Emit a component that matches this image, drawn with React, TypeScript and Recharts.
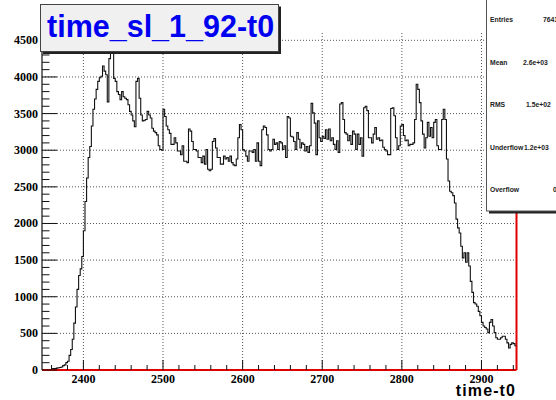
import React from 'react';
import { Line, LineChart, ReferenceLine, XAxis, YAxis } from 'recharts';

// time_sl_1_92-t0 : drift time histogram, 2-unit bins starting at 2348
const X_START = 2348;
const BIN_WIDTH = 2;
const X_END = 2944;

const counts = [
  0, 0, 0, 0, 0, 5, 15, 20, 20, 25,
  30, 35, 40, 60, 70, 100, 120, 200, 280, 420,
  640, 860, 1100, 1290, 1380, 1550, 1900, 2300, 2620, 2900,
  3050, 3330, 3560, 3700, 3830, 3940, 3990, 4010, 4150, 4080,
  4030, 3660, 4250, 4380, 4330, 3980, 3940, 3800, 3760, 3690,
  3800, 3730, 3710, 3690, 3620, 3530, 3480, 3400, 3320, 3940,
  3980, 3710, 3480, 3400, 3410, 3420, 3530, 3480, 3440, 3300,
  3260, 3240, 3210, 3060, 3010, 3000, 3560, 3460, 3330, 3280,
  3230, 3080, 3080, 3170, 3100, 2990, 2990, 2940, 3060, 2850,
  2850, 2830, 3290, 3260, 3120, 3010, 3010, 2990, 2900, 2900,
  2830, 2920, 2810, 3010, 2740, 2720, 2740, 3120, 3160, 3030,
  2900, 2900, 2810, 2810, 2920, 2880, 2900, 2850, 2920, 2830,
  2800, 2790, 2880, 3170, 3350, 3280, 3010, 2990, 2920, 2850,
  2990, 2990, 2970, 3010, 2850, 3100, 2850, 2790, 3280, 3330,
  3310, 3210, 3010, 2990, 3010, 3150, 3080, 3100, 3010, 3120,
  3100, 3010, 3060, 2900, 3460, 3440, 3190, 3180, 3120, 3010,
  3240, 3150, 3030, 3100, 3080, 2990, 3050, 2970, 3060, 3640,
  3510, 3370, 2940, 3400, 3170, 3120, 3190, 3160, 3280, 3150,
  3290, 3130, 3170, 3080, 3010, 3130, 2970, 3630, 3650, 3420,
  3240, 3220, 3130, 3200, 3080, 3260, 3220, 3010, 3220, 3080,
  3170, 2920, 3580, 3600, 3540, 3170, 3170, 3100, 3220, 3310,
  3150, 3170, 3130, 3140, 3040, 3010, 2990, 2940, 2940, 3570,
  3580, 3470, 3170, 3010, 3060, 3330, 3350, 3200, 3130, 3140,
  3060, 3080, 3080, 3100, 3420, 3900, 3830, 3650, 3400, 3220,
  3030, 3170, 3380, 3190, 3310, 3170, 3380, 3420, 3060, 3010,
  3010, 3420, 3560, 3420, 2880, 2580, 2440, 2420, 2380, 2280,
  2060, 1940, 1870, 1690, 1530, 1600, 1470, 1600, 1420, 1210,
  1060, 920, 900, 870, 800, 740, 650, 600, 580, 560,
  510, 650, 690, 600, 510, 440, 420, 420, 440, 460,
  460, 420, 370, 300, 350, 370, 360, 330,
];

const Y_MAX = 4600;
const yMajor = [0, 500, 1000, 1500, 2000, 2500, 3000, 3500, 4000, 4500];
const xMajor = [2400, 2500, 2600, 2700, 2800, 2900];

// stat box rows; the box runs past the right edge of the canvas
const stats = [
  { label: 'Entries', value: '764152', at: 543 },
  { label: 'Mean', value: '2.6e+03', at: 523 },
  { label: 'RMS', value: '1.5e+02', at: 526 },
  { label: 'Underflow', value: '1.2e+03', at: 524 },
  { label: 'Overflow', value: '0', at: 553 },
];

// minor ticks: every 100 on y, every 20 on x
const yTicks = Array.from({ length: Y_MAX / 100 + 1 }, (_, i) => i * 100);
const xTicks = Array.from({ length: 30 }, (_, i) => 2360 + i * 20);

// step outline: one point per bin low edge plus the closing edge
const points = counts.map((n, i) => ({ t: X_START + i * BIN_WIDTH, n }));
points.push({ t: X_END, n: counts[counts.length - 1] });

const SERIF = '"Liberation Serif", "Times New Roman", serif';
const SANS = '"Liberation Sans", Arial, sans-serif';

const YTick = (props: any) => {
  const { x, y, payload } = props;
  const v = payload.value;
  const major = v % 500 === 0;
  return (
    <g>
      <line x1={x} x2={x + (major ? 15 : 7.5)} y1={y} y2={y} stroke="#111" />
      {major && v <= 4500 && (
        <text
          x={x - 4}
          y={y + 4}
          textAnchor="end"
          fontFamily={SERIF}
          fontWeight={700}
          fontSize={12}
          fill="#000"
        >
          {v}
        </text>
      )}
    </g>
  );
};

const XTick = (props: any) => {
  const { x, y, payload } = props;
  const v = payload.value;
  const major = v % 100 === 0;
  return (
    <g>
      <line x1={x} x2={x} y1={y} y2={y - (major ? 10 : 5)} stroke="#111" />
      {major && (
        <text
          x={x}
          y={y + 12.5}
          textAnchor="middle"
          fontFamily={SERIF}
          fontWeight={700}
          fontSize={12}
          fill="#000"
        >
          {v}
        </text>
      )}
    </g>
  );
};

const grid = { stroke: '#555', strokeDasharray: '1 2', strokeWidth: 1 };

export default function App() {
  return (
    <div
      style={{
        position: 'absolute',
        left: 0,
        top: 0,
        width: 556,
        height: 400,
        overflow: 'hidden',
        background: '#fff',
      }}
    >
      <LineChart
        width={556}
        height={400}
        data={points}
        margin={{ top: 33, right: 39.5, left: 0, bottom: 0 }}
      >
        <XAxis
          dataKey="t"
          type="number"
          domain={[X_START, X_END]}
          allowDataOverflow
          ticks={xTicks}
          interval={0}
          height={30}
          tickSize={0}
          tickMargin={0}
          tickLine={false}
          tick={<XTick />}
          axisLine={{ stroke: '#e00000', strokeWidth: 2 }}
        />
        <YAxis
          type="number"
          domain={[0, Y_MAX]}
          allowDataOverflow
          ticks={yTicks}
          interval={0}
          width={42}
          tickSize={0}
          tickMargin={0}
          tickLine={false}
          tick={<YTick />}
          axisLine={{ stroke: '#111', strokeWidth: 1.2 }}
        />
        {yMajor.slice(1).map((v) => (
          <ReferenceLine key={`h${v}`} y={v} {...grid} />
        ))}
        {xMajor.map((v) => (
          <ReferenceLine key={`v${v}`} x={v} {...grid} />
        ))}
        <ReferenceLine x={X_END} stroke="#e00000" strokeWidth={2} />
        <Line
          type="stepAfter"
          dataKey="n"
          stroke="#111"
          strokeWidth={1.1}
          dot={false}
          isAnimationActive={false}
        />
      </LineChart>

      <svg
        width={556}
        height={400}
        style={{ position: 'absolute', left: 0, top: 0, pointerEvents: 'none' }}
      >
        {/* title pave */}
        <rect x={43} y={6.5} width={238} height={47.5} fill="#222" />
        <rect x={40.5} y={4.5} width={238} height={47} fill="#f0f0f0" stroke="#444" />
        <text x={47} y={36.5} fontFamily={SANS} fontWeight={700} fontSize={30.5} fill="#0000f0">
          time_sl_1_92-t0
        </text>

        {/* stats pave */}
        <rect x={489} y={0} width={80} height={213.5} fill="#222" />
        <rect x={486.5} y={-2} width={80} height={213} fill="#fff" stroke="#555" />
        {stats.map((s, i) => (
          <g key={s.label} fontFamily={SANS} fontWeight={700} fontSize={6.8} fill="#222">
            <text x={490} y={22 + i * 42.6}>
              {s.label}
            </text>
            <text x={s.at} y={22 + i * 42.6}>
              {s.value}
            </text>
          </g>
        ))}

        <text
          x={516}
          y={396}
          textAnchor="end"
          fontFamily={SANS}
          fontWeight={700}
          fontSize={16}
          letterSpacing={1.1}
          fill="#000"
        >
          time-t0
        </text>
      </svg>
    </div>
  );
}
